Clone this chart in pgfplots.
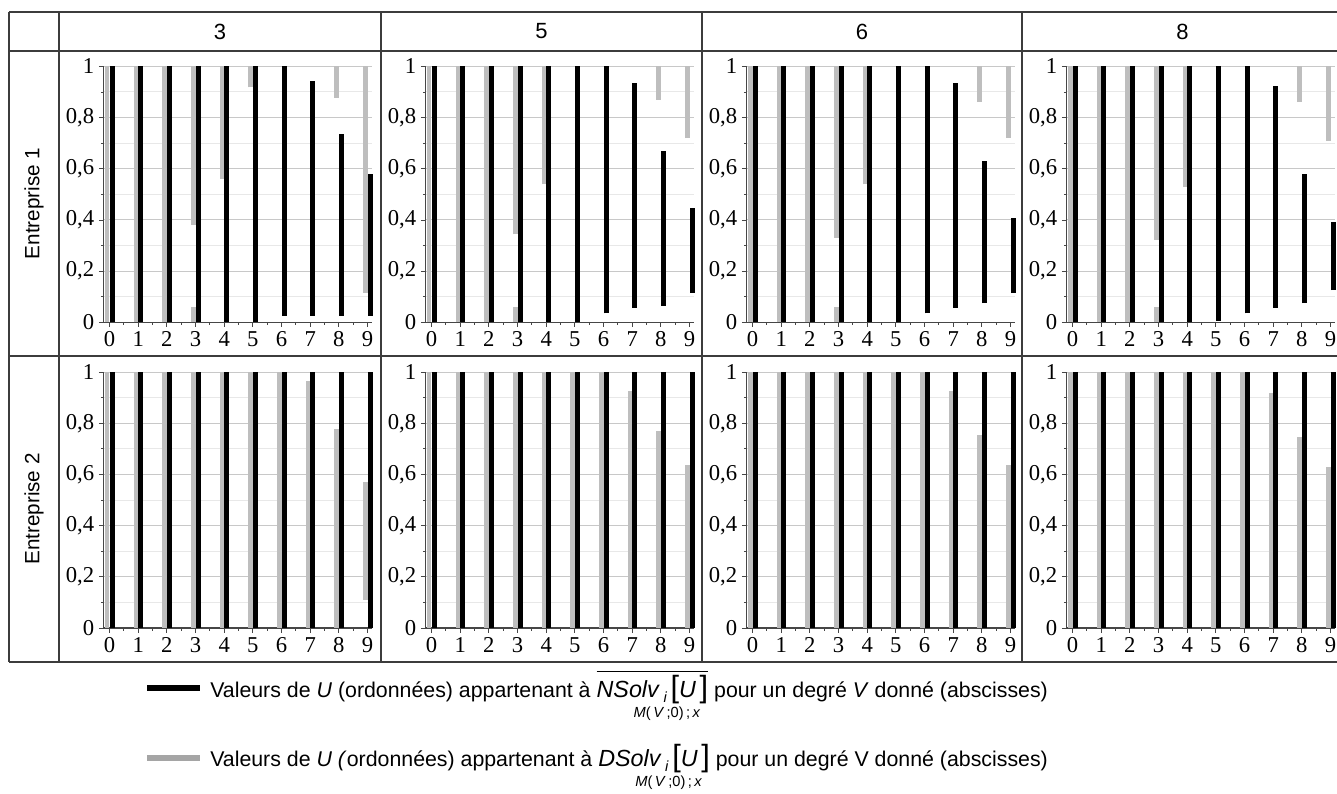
\documentclass[border=0pt]{standalone}
\usepackage{pgfplots}
\pgfplotsset{compat=1.18}
\usepackage{pgfplotstable}
\usepackage{amsmath}
\usepackage{fontspec}
\setmainfont{Liberation Sans}
\newfontfamily\serif{Liberation Serif}

\definecolor{bargray}{RGB}{190,190,190}
\definecolor{leggray}{RGB}{165,165,165}
\definecolor{gridmaj}{RGB}{200,200,200}
\definecolor{gridmin}{RGB}{232,232,232}
\definecolor{tableline}{RGB}{60,60,60}
\definecolor{axline}{RGB}{70,70,70}

\def\PX{0.75pt}

% ---------- Entreprise 1 : black (NSolv) ----------
\pgfplotstableread{
x lo hi
0 0 1
1 0 1
2 0 1
3 0 1
4 0 1
5 0 1
6 0.025 1
7 0.025 0.944
8 0.025 0.736
9 0.025 0.578
}\NAtrois
\pgfplotstableread{
x lo hi
0 0 1
1 0 1
2 0 1
3 0 1
4 0 1
5 0 1
6 0.035 1
7 0.057 0.934
8 0.065 0.668
9 0.116 0.447
}\NAcinq
\pgfplotstableread{
x lo hi
0 0 1
1 0 1
2 0 1
3 0 1
4 0 1
5 0 1
6 0.035 1
7 0.057 0.935
8 0.075 0.629
9 0.114 0.408
}\NAsix
\pgfplotstableread{
x lo hi
0 0 1
1 0 1
2 0 1
3 0 1
4 0 1
5 0.006 1
6 0.035 1
7 0.057 0.925
8 0.075 0.578
9 0.126 0.390
}\NAhuit
% ---------- Entreprise 1 : gray (DSolv) ----------
\pgfplotstableread{
x lo hi
0 0 1
1 0 1
2 0 1
3 0 0.061
3 0.382 1
4 0.561 1
5 0.918 1
8 0.877 1
9 0.116 1
}\DAtrois
\pgfplotstableread{
x lo hi
0 0 1
1 0 1
2 0 1
3 0 0.061
3 0.343 1
4 0.539 1
8 0.869 1
9 0.719 1
}\DAcinq
\pgfplotstableread{
x lo hi
0 0 1
1 0 1
2 0 1
3 0 0.061
3 0.331 1
4 0.539 1
8 0.860 1
9 0.720 1
}\DAsix
\pgfplotstableread{
x lo hi
0 0 1
1 0 1
2 0 1
3 0 0.061
3 0.321 1
4 0.530 1
8 0.860 1
9 0.710 1
}\DAhuit
% ---------- Entreprise 2 : black (NSolv) ----------
\pgfplotstableread{
x lo hi
0 0 1
1 0 1
2 0 1
3 0 1
4 0 1
5 0 1
6 0 1
7 0 1
8 0 1
9 0 1
}\NBtrois
\pgfplotstableread{
x lo hi
0 0 1
1 0 1
2 0 1
3 0 1
4 0 1
5 0 1
6 0 1
7 0 1
8 0 1
9 0 1
}\NBcinq
\pgfplotstableread{
x lo hi
0 0 1
1 0 1
2 0 1
3 0 1
4 0 1
5 0 1
6 0 1
7 0 1
8 0 1
9 0 1
}\NBsix
\pgfplotstableread{
x lo hi
0 0 1
1 0 1
2 0 1
3 0 1
4 0 1
5 0 1
6 0 1
7 0 1
8 0 1
9 0 1
}\NBhuit
% ---------- Entreprise 2 : gray (DSolv) ----------
\pgfplotstableread{
x lo hi
0 0 1
1 0 1
2 0 1
3 0 1
4 0 1
5 0 1
6 0 1
7 0 0.966
8 0 0.778
9 0.111 0.569
}\DBtrois
\pgfplotstableread{
x lo hi
0 0 1
1 0 1
2 0 1
3 0 1
4 0 1
5 0 1
6 0 1
7 0 0.927
8 0 0.770
9 0 0.637
}\DBcinq
\pgfplotstableread{
x lo hi
0 0 1
1 0 1
2 0 1
3 0 1
4 0 1
5 0 1
6 0 1
7 0 0.927
8 0 0.755
9 0 0.637
}\DBsix
\pgfplotstableread{
x lo hi
0 0 1
1 0 1
2 0 1
3 0 1
4 0 1
5 0 1
6 0 1
7 0 0.918
8 0 0.747
9 0 0.629
}\DBhuit

\pgfplotsset{
  panel/.style={
    anchor=south west, scale only axis,
    width=201.4pt, height=192pt,
    xmin=-0.21, xmax=9.157, ymin=0, ymax=1,
    axis lines*=left,
    axis line style={color=axline, line width=0.9pt},
    xtick={0,1,2,3,4,5,6,7,8,9}, minor x tick num=1,
    ytick={0,0.2,0.4,0.6,0.8,1}, minor y tick num=1,
    ymajorgrids, yminorgrids,
    major grid style={gridmaj, line width=0.75pt},
    minor grid style={gridmin, line width=0.75pt},
    tick align=outside, major tick length=3.5pt, minor tick length=2pt,
    tick style={axline, line width=0.6pt},
    ticklabel style={font=\serif\fontsize{17}{19}\selectfont},
    /pgf/number format/assume math mode=true,
    /pgf/number format/use comma,
    clip=false,
  },
  graybars/.style={draw=none, mark=none,
    error bars/.cd, y dir=plus, y explicit, error mark=none,
    error bar style={draw=bargray, line width=3.4pt, line cap=butt}},
  blackbars/.style={draw=none, mark=none,
    error bars/.cd, y dir=plus, y explicit, error mark=none,
    error bar style={draw=black, line width=3.6pt, line cap=butt}},
}

\newcommand\panel[4]{%
  \begin{axis}[panel, at={({(#1+44.5)*\PX},{-#2*\PX})}]
    \addplot[graybars] table[x expr=\thisrow{x}-0.08, y=lo, y error expr=\thisrow{hi}-\thisrow{lo}] {#3};
    \addplot[blackbars] table[x expr=\thisrow{x}+0.09, y=lo, y error expr=\thisrow{hi}-\thisrow{lo}] {#4};
  \end{axis}}

\newcommand\subsc{\fontsize{11}{12}\selectfont}
\newcommand\eqf{\fontsize{17.5}{20}\selectfont}
\newcommand\brk{\fontsize{23}{24}\selectfont}
\newcommand\solv[1]{%
  {\eqf\textit{#1}}\,\raisebox{-0.45ex}{\subsc\textit{i}}%
  \makebox[0pt][c]{\raisebox{-0.95em}{\subsc\textit{M}(\,\textit{V}\,;0)\,;\,\textit{x}}}%
  \,{\brk[}{\eqf\textit{U}}\,{\brk]}}

\begin{document}
\begin{tikzpicture}
\useasboundingbox (0,0) rectangle (1337*\PX,-793*\PX);

% table grid
\begin{scope}[tableline, line width=1.1pt]
  \foreach \yy in {12,51,356,662} {\draw (9*\PX,-\yy*\PX) -- (1345*\PX,-\yy*\PX);}
  \foreach \xx in {9,59,381,702,1022,1343} {\draw (\xx*\PX,-12*\PX) -- (\xx*\PX,-662*\PX);}
\end{scope}

% headers
\begin{scope}[font=\fontsize{16.5}{19}\selectfont]
  \node at (220*\PX,-31.5*\PX) {3};
  \node at (541.5*\PX,-31.5*\PX) {5};
  \node at (862*\PX,-31.5*\PX) {6};
  \node at (1182.5*\PX,-31.5*\PX) {8};
\end{scope}
\begin{scope}[font=\fontsize{15.5}{18}\selectfont]
  \node[rotate=90] at (34*\PX,-203.5*\PX) {Entreprise 1};
  \node[rotate=90] at (34*\PX,-509*\PX) {Entreprise 2};
\end{scope}

% panels: column left, y-zero (px)
\panel{59}{322.3}{\DAtrois}{\NAtrois}
\panel{381}{322.3}{\DAcinq}{\NAcinq}
\panel{702}{322.3}{\DAsix}{\NAsix}
\panel{1022}{322.3}{\DAhuit}{\NAhuit}
\panel{59}{628}{\DBtrois}{\NBtrois}
\panel{381}{628}{\DBcinq}{\NBcinq}
\panel{702}{628}{\DBsix}{\NBsix}
\panel{1022}{628}{\DBhuit}{\NBhuit}

% legend
\draw[black, line width=3.8pt] (147*\PX,-688*\PX) -- (200*\PX,-688*\PX);
\draw[leggray, line width=3.8pt] (147*\PX,-758*\PX) -- (200*\PX,-758*\PX);
\begin{scope}[font=\fontsize{16}{19}\selectfont]
  \node[anchor=base west, inner sep=0pt] at (210*\PX,-697*\PX)
    {Valeurs de \textit{U} (ordonnées) appartenant à $\overline{\hbox{\solv{NSolv}}}$ pour un degré \textit{V} donné (abscisses)};
  \node[anchor=base west, inner sep=0pt] at (210*\PX,-766*\PX)
    {Valeurs de \textit{U (}ordonnées) appartenant à \solv{DSolv} pour un degré V donné (abscisses)};
\end{scope}
\end{tikzpicture}
\end{document}
